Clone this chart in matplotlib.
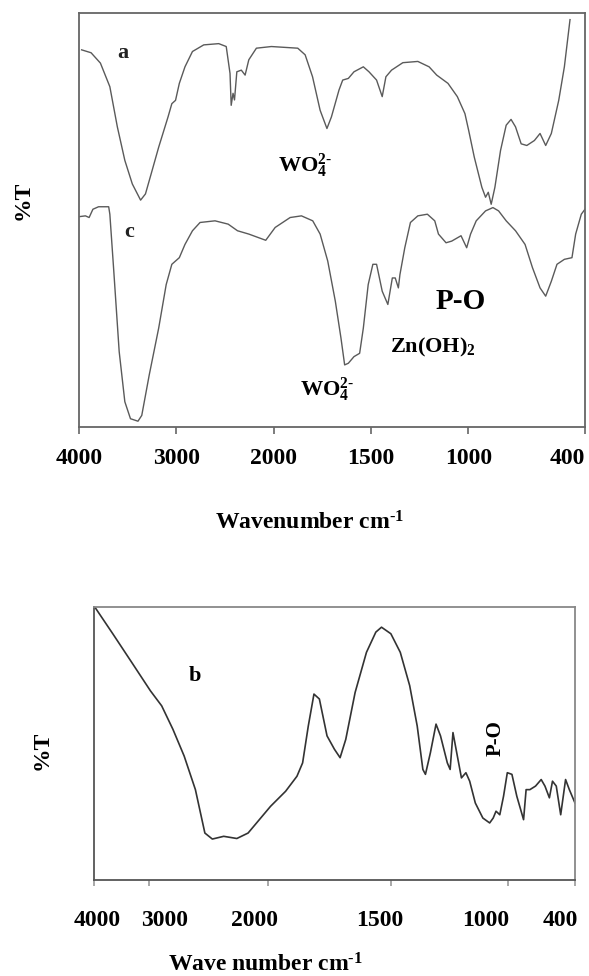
import numpy as np
import matplotlib
matplotlib.use("Agg")
import matplotlib.pyplot as plt

plt.rcParams['font.family'] = ['Liberation Serif', 'DejaVu Serif']
plt.rcParams['mathtext.fontset'] = 'custom'
plt.rcParams['mathtext.rm'] = 'Liberation Serif:bold'
plt.rcParams['mathtext.bf'] = 'Liberation Serif:bold'
plt.rcParams['mathtext.it'] = 'Liberation Serif:bold'

# ---------------- data ----------------
tick_values = [4000, 3000, 2000, 1500, 1000, 400]
tick_labels = ["4000", "3000", "2000", "1500", "1000", "400"]

a_wn = [3973, 3876, 3780, 3683, 3606, 3529, 3452, 3367, 3317, 3259, 3181, 3085, 3046, 3008,
        2969, 2911, 2834, 2718, 2564, 2487, 2448, 2436, 2417, 2402, 2378, 2332, 2293, 2255,
        2177, 2023, 1876, 1838, 1800, 1761, 1726, 1703, 1664, 1645, 1616, 1587, 1539, 1510,
        1471, 1442, 1423, 1394, 1336, 1259, 1201, 1162, 1104, 1056, 1017, 998, 969, 930,
        911, 897, 882, 863, 834, 805, 780, 757, 728, 699, 660, 631, 602, 573, 535, 506, 477]
a_T = [91.1, 90.4, 87.9, 82.2, 72.5, 64.4, 58.7, 54.8, 56.3, 61.1, 67.6, 74.9, 78.1, 78.9,
       83.0, 87.0, 90.7, 92.3, 92.6, 91.9, 85.4, 77.7, 80.6, 79.0, 85.8, 86.2, 85.0, 88.7,
       91.5, 91.9, 91.5, 89.9, 84.6, 76.5, 72.1, 74.9, 81.4, 83.8, 84.2, 85.8, 87.0, 85.8,
       83.8, 79.8, 84.6, 86.2, 88.0, 88.3, 87.0, 85.0, 83.0, 79.8, 75.7, 71.7, 65.2, 57.9,
       55.5, 56.7, 53.8, 57.9, 66.8, 72.9, 74.3, 72.5, 68.4, 68.0, 69.2, 70.9, 68.0, 70.9,
       78.9, 87.0, 98.4]

c_wn = [4000, 3934, 3896, 3857, 3799, 3695, 3683, 3645, 3587, 3529, 3471, 3394, 3355, 3278,
        3181, 3104, 3046, 2969, 2911, 2834, 2756, 2602, 2467, 2371, 2255, 2081, 1992, 1915,
        1857, 1799, 1761, 1722, 1683, 1654, 1635, 1616, 1587, 1558, 1539, 1514, 1490, 1471,
        1442, 1413, 1390, 1375, 1359, 1351, 1326, 1297, 1259, 1210, 1172, 1153, 1114, 1085,
        1037, 1008, 988, 959, 911, 873, 844, 805, 757, 708, 670, 631, 602, 573, 544, 506,
        467, 448, 419, 400]
c_T = [50.8, 51.0, 50.6, 52.6, 53.2, 53.2, 51.4, 38.5, 18.2, 6.1, 2.0, 1.4, 2.8, 12.6,
       23.9, 34.4, 39.3, 40.9, 44.1, 47.4, 49.4, 49.8, 49.0, 47.4, 46.6, 45.1, 48.2, 50.6,
       51.0, 49.8, 46.6, 40.1, 30.4, 21.5, 15.0, 15.4, 17.0, 17.8, 23.9, 34.4, 39.3, 39.3,
       32.8, 29.6, 36.0, 36.0, 33.6, 36.8, 43.3, 49.4, 51.0, 51.4, 49.8, 46.6, 44.5, 44.9,
       46.2, 43.3, 46.6, 49.8, 52.2, 53.0, 52.2, 49.8, 47.4, 44.1, 38.5, 33.6, 31.6, 35.2,
       39.3, 40.5, 40.9, 46.6, 51.4, 52.6]

b_wn = [3986, 3660, 3320, 2990, 2895, 2800, 2705, 2610, 2530, 2467, 2371, 2260, 2165, 2070,
        1988, 1927, 1881, 1858, 1835, 1812, 1790, 1759, 1729, 1706, 1683, 1645, 1599, 1561,
        1538, 1500, 1460, 1420, 1388, 1364, 1353, 1332, 1308, 1289, 1260, 1248, 1236, 1220,
        1200, 1181, 1165, 1141, 1109, 1080, 1065, 1053, 1037, 1021, 1005, 969, 925, 864,
        841, 807, 756, 705, 671, 631, 603, 569, 529, 485, 451, 400]
b_T = [100.0, 90.2, 79.8, 69.3, 63.8, 55.2, 45.4, 33.1, 17.2, 15.0, 16.0, 15.2, 17.2, 22.1,
       27.0, 32.5, 38.0, 42.9, 56.4, 68.1, 66.3, 52.8, 47.9, 44.8, 51.5, 68.7, 83.4, 90.8,
       92.6, 90.2, 83.4, 71.2, 56.4, 40.5, 38.7, 46.6, 57.1, 52.8, 42.9, 40.5, 54.0, 46.6,
       37.4, 39.3, 36.2, 28.2, 22.7, 20.9, 22.7, 25.2, 23.9, 30.7, 39.3, 38.7, 30.7, 22.1,
       33.1, 33.1, 34.4, 36.8, 34.4, 30.1, 36.2, 34.4, 23.9, 36.8, 33.1, 28.2]

# ---------------- axis scale helpers (piecewise linear wavenumber axis) ----------------
def pw(x, xp, fp):
    x = np.asarray(x, dtype=float)
    xp = np.asarray(xp, dtype=float)
    fp = np.asarray(fp, dtype=float)
    y = np.interp(x, xp, fp)
    lo_s = (fp[1] - fp[0]) / (xp[1] - xp[0])
    hi_s = (fp[-1] - fp[-2]) / (xp[-1] - xp[-2])
    y = np.where(x < xp[0], fp[0] + (x - xp[0]) * lo_s, y)
    y = np.where(x > xp[-1], fp[-1] + (x - xp[-1]) * hi_s, y)
    return y

def make_scale(xp, fp):
    return (lambda x: pw(x, xp, fp), lambda y: pw(y, fp, xp))

top_scale = make_scale([400, 2000, 4000], [0, 1600, 2600])
bot_scale = make_scale([400, 1000, 1500, 2000, 3000, 4000], [0, 177, 490, 818, 1133, 1280])

W, H = 589, 976
fig = plt.figure(figsize=(W / 100, H / 100), dpi=100)

def fx(px):
    return px / W

def fy(py):
    return 1 - py / H

WO4 = r'WO$_4^{2\text{-}}$'

# ---------------- top panel ----------------
ax1 = fig.add_axes([fx(79), fy(427), (585 - 79) / W, (427 - 13) / H])
ax1.set_xscale('function', functions=top_scale)
ax1.plot(a_wn, a_T, color='#5a5a5a', lw=1.0)
ax1.plot(c_wn, c_T, color='#5a5a5a', lw=1.0)
ax1.set_xlim(4000, 400)
ax1.set_ylim(0, 100)
ax1.set_yticks([])
ax1.set_xticks(tick_values)
ax1.set_xticklabels(tick_labels, fontsize=17, fontweight='bold')
ax1.xaxis.set_minor_locator(matplotlib.ticker.NullLocator())
ax1.tick_params(axis='x', direction='out', length=5, width=1.2, color='#666666', pad=10)
ax1.get_xticklabels()[-1].set_ha('right')
for s in ax1.spines.values():
    s.set_color('#666666')
    s.set_linewidth(1.3)

fig.text(fx(310), fy(523), r'Wavenumber cm$^{\text{-}1}$', fontsize=17, fontweight='bold',
         ha='center', va='center')
fig.text(fx(23), fy(200), '%T', fontsize=17, fontweight='bold', rotation=90,
         ha='center', va='center')
fig.text(fx(123), fy(53), 'a', fontsize=16, fontweight='bold', ha='center', va='center', color='#222222')
fig.text(fx(129), fy(232), 'c', fontsize=16, fontweight='bold', ha='center', va='center', color='#222222')
fig.text(fx(278), fy(166), WO4, fontsize=16, fontweight='bold', ha='left', va='center')
fig.text(fx(461), fy(302), 'P-O', fontsize=21, fontweight='bold', ha='center', va='center')
fig.text(fx(390), fy(347), r'Zn(OH)$_2$', fontsize=16, fontweight='bold', ha='left', va='center')
fig.text(fx(300), fy(390), WO4, fontsize=16, fontweight='bold', ha='left', va='center')

# ---------------- bottom panel ----------------
ax2 = fig.add_axes([fx(94), fy(880), (575 - 94) / W, (880 - 607) / H])
ax2.set_xscale('function', functions=bot_scale)
ax2.plot(b_wn, b_T, color='#333333', lw=1.2)
ax2.set_xlim(4000, 400)
ax2.set_ylim(0, 100)
ax2.set_yticks([])
ax2.xaxis.set_major_locator(matplotlib.ticker.FixedLocator(tick_values))
ax2.xaxis.set_minor_locator(matplotlib.ticker.NullLocator())
ax2.set_xticklabels([])
ax2.tick_params(axis='x', direction='out', length=4, width=1.2, color='#999999')
ax2.spines['left'].set_color('#555555')
ax2.spines['bottom'].set_color('#555555')
ax2.spines['top'].set_color('#888888')
ax2.spines['right'].set_color('#888888')
for s in ax2.spines.values():
    s.set_linewidth(1.3)

label_px = [97, 165, 254, 380, 486, 560]
for lab, px in zip(tick_labels, label_px):
    fig.text(fx(px), fy(921), lab, fontsize=17, fontweight='bold', ha='center', va='center')

fig.text(fx(265), fy(965), r'Wave number cm$^{\text{-}1}$', fontsize=17, fontweight='bold',
         ha='center', va='center')
fig.text(fx(42), fy(750), '%T', fontsize=17, fontweight='bold', rotation=90,
         ha='center', va='center')
fig.text(fx(195), fy(676), 'b', fontsize=16, fontweight='bold', ha='center', va='center')
fig.text(fx(496), fy(738), 'P-O', fontsize=15, fontweight='bold', rotation=90,
         ha='center', va='center')

fig.savefig('out.png', dpi=100)
